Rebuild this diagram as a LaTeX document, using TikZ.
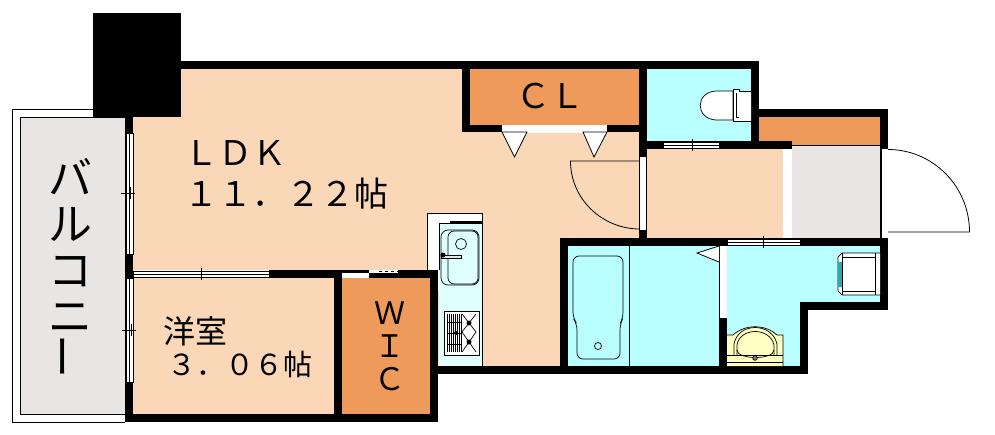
\documentclass[tikz,border=0pt]{standalone}
\usepackage{fontspec}
\newfontfamily\jpfont{Noto Sans CJK JP}
\definecolor{roompeach}{HTML}{F9D7B7}
\definecolor{closetorange}{HTML}{EE9A5A}
\definecolor{wetcyan}{HTML}{B9FFFF}
\definecolor{floorgray}{HTML}{EAE5E5}
\definecolor{basinyellow}{HTML}{FFFFC4}
\definecolor{pantea}{HTML}{2AA9B0}
\tikzset{
    x=1pt, y=-1pt, % one unit is one pixel of the plan, y runs downwards
    wall/.style={fill=black}, % the thick black walls
    opening/.style={fill=white}, % doors and windows cut in the walls
    fitting/.style={draw=black, line width=0.7pt}, % bath, sink, toilet and so on
    thinline/.style={draw=black, line width=0.8pt},
    roomlabel/.style={inner sep=0pt, font=\jpfont\fontsize{34}{41}\selectfont},
}
\begin{document}
\begin{tikzpicture}
    \useasboundingbox (0,0) rectangle (995,434);
    % balcony
    \draw[thinline] (93,109.5) -- (12.5,109.5) -- (12.5,422) -- (125,422);
    \filldraw[thinline, fill=floorgray] (125,117) -- (20.5,117) -- (20.5,414) -- (125,414);
    % floors
    \fill[roompeach] (133,117) -- (181,117) -- (181,69) -- (462,69) -- (462,132) -- (639,132)
        -- (639,238) -- (560,238) -- (560,366) -- (438,366) -- (438,270) -- (133,270) -- cycle;
    \fill[roompeach] (133,278) rectangle (334,414);
    \fill[roompeach] (647,149) rectangle (783,238);
    \fill[closetorange] (470,69) rectangle (639,125);
    \fill[closetorange] (342,278) rectangle (430,414);
    \fill[closetorange] (759,117) rectangle (880,145);
    \fill[wetcyan] (647,69) rectangle (751,141);
    \fill[wetcyan] (568,246) rectangle (719,366);
    \fill[wetcyan] (727,246) -- (880,246) -- (880,302) -- (800,302) -- (800,366) -- (727,366) -- cycle;
    \fill[floorgray] (792,145) rectangle (881,238);
    \draw[thinline] (792,145) -- (881,145) -- (881,238);
    % kitchen counter
    \filldraw[thinline, fill=white] (427,270) -- (427,213) -- (482,213) -- (482,366);
    \fill[wetcyan!45] (439,223) rectangle (482,366);
    \draw[thinline] (439,270) -- (439,223) -- (482,223);
    \draw[line width=1.4pt] (450,222) -- (482,222);
    \draw[fitting, rounded corners=7pt] (441,230) rectangle (479,285);
    \draw[fitting, rounded corners=6pt] (448,231) rectangle (478,284);
    \draw[fitting] (461,244) circle (5.5);
    \draw[fitting, fill=floorgray] (441,255.5) rectangle (461,258.5);
    \fill (443,255) circle (2.5);
    \draw[fitting, fill=white] (444,311) rectangle (479,355);
    \foreach \gx in {447,449,...,461} {
        \draw[line width=0.7pt] (\gx,314) -- (\gx,352);
    }
    \foreach \gy in {322,333,344} {
        \draw[line width=0.7pt] (447,\gy) -- (462,\gy);
    }
    \draw[fitting] (462,314) -- (476,332) -- (462,352) (476,314) -- (462,332) -- (476,352);
    \fill (469,323) circle (2.5);
    \fill (469,342) circle (2.5);
    \fill (456,333) circle (2);
    % walls
    \fill[wall] (93,13) rectangle (181,117);
    \fill[wall] (181,61) rectangle (759,69);
    \fill[wall] (462,61) rectangle (470,132);
    \fill[wall] (462,125) rectangle (647,132);
    \fill[wall] (639,61) rectangle (647,246);
    \fill[wall] (751,61) rectangle (759,149);
    \fill[wall] (639,141) rectangle (792,149);
    \fill[wall] (751,109) rectangle (888,117);
    \fill[wall] (880,109) rectangle (888,310);
    \fill[wall] (560,238) rectangle (888,246);
    \fill[wall] (560,238) rectangle (568,374);
    \fill[wall] (430,366) rectangle (808,374);
    \fill[wall] (719,238) rectangle (727,374);
    \fill[wall] (800,302) rectangle (888,310);
    \fill[wall] (800,302) rectangle (808,374);
    \fill[wall] (430,270) rectangle (438,422);
    \fill[wall] (269,270) rectangle (438,278);
    \fill[wall] (334,270) rectangle (342,422);
    \fill[wall] (125,414) rectangle (438,422);
    \fill[wall] (125,117) rectangle (133,422);
    % openings
    \fill[opening] (502,125) rectangle (607,132.5);
    \fill[opening] (640,157) rectangle (646,230);
    \fill[opening] (783,149) rectangle (792,238);
    \fill[opening] (881.5,149) rectangle (888,238);
    \fill[opening] (719.5,246) rectangle (726.5,318);
    \fill[opening] (342,272.5) rectangle (369,278);
    \fill[opening] (369,270) rectangle (398,273);
    \draw[dashed, line width=0.7pt] (379,271.5) -- (398,271.5);
    \foreach \xa/\xb/\ya in {663/719/141,727/800/238,133/269/270} {
        \filldraw[thinline, fill=white] (\xa,\ya+1) rectangle (\xb,\ya+7);
        \draw[line width=0.6pt] (\xa,\ya+4) -- (\xb,\ya+4);
    }
    \foreach \xa/\ya/\yb in {126/133/254,126/278/382} {
        \filldraw[thinline, fill=white] (\xa,\ya) rectangle (\xa+7,\yb);
        \draw[line width=0.6pt] (\xa+3.5,\ya) -- (\xa+3.5,\yb);
    }
    % window marks
    \foreach \tx/\ty in {692/145,763/242,201/274} {
        \draw[line width=0.6pt] (\tx,\ty-6) -- (\tx,\ty+6) (\tx-9,\ty) -- (\tx+9,\ty);
    }
    \foreach \tx/\ty in {128/193,129/330} {
        \draw[line width=0.6pt] (\tx-7,\ty) -- (\tx+7,\ty) (\tx+2,\ty-6) -- (\tx+2,\ty+6);
    }
    % door leaves
    \filldraw[thinline, fill=white] (502,132) -- (527,132) -- (514.5,157) -- cycle;
    \filldraw[thinline, fill=white] (583,132) -- (607,132) -- (594,157) -- cycle;
    \draw[thinline] (640,161) -- (570.5,161) arc[start angle=180, end angle=270, x radius=69.5, y radius=-68];
    \draw[thinline] (888,149.5) arc[start angle=90, end angle=0, x radius=81.5, y radius=-82.5] -- (888,232);
    \filldraw[thinline, fill=white] (719,246) -- (697,253) -- (719,262);
    % bath
    \draw[fitting] (629,246) -- (629,366);
    \draw[fitting, rounded corners=6pt] (573,318) -- (573,256) -- (623,256) -- (623,318)
        -- (620,324) -- (620,359) -- (577,359) -- (577,324) -- cycle;
    \draw[fitting] (598,346) circle (3.5);
    % toilet
    \draw[fitting, fill=white] (733,91) -- (716,91) .. controls (695,92) and (695,119) .. (716,120) -- (733,120) -- cycle;
    \draw[fitting, fill=white] (751,91) -- (739,91) -- (739,89) -- (733,89) -- (733,121) -- (751,121);
    \draw[fitting] (736,93) -- (736,117) -- (739,117);
    % washing pan
    \filldraw[fitting, fill=white] (880,253) -- (842,253) -- (838,257) -- (838,291) -- (842,295) -- (880,295);
    \fill[pantea] (838,262) rectangle (842,287);
    \draw[fitting] (842,253) -- (842,295);
    \draw[fitting] (842,257) rectangle (875,291);
    \draw[fitting] (875,253) -- (875,295);
    % wash basin
    \fill[basinyellow] (727,335) -- (733,335) .. controls (745,324) and (765,324) .. (777,335)
        -- (783,335) -- (783,366) -- (727,366) -- cycle;
    \draw[fitting] (727,335) -- (733,335) .. controls (745,324) and (765,324) .. (777,335) -- (783,335) -- (783,366);
    \draw[fitting] (734,355) -- (734,344) .. controls (738,322) and (772,322) .. (777,344) -- (777,355);
    \draw[fitting] (737,355) -- (737,345) .. controls (740,327) and (770,327) .. (774,345) -- (774,355);
    \draw[fitting] (737,350) .. controls (737,360) and (774,360) .. (774,350);
    \draw[fitting] (727,355) -- (783,355) (727,362) -- (783,362);
    \filldraw[fitting, fill=gray] (755,358) circle (2.3);
    % labels
    \node[roomlabel, anchor=north west, align=left] (ldk) at (184,140) {ＬＤＫ\\１１．２２帖};
    \node[roomlabel, anchor=west] (cl) at (516,96) {ＣＬ};
    \node[roomlabel, align=center, font=\jpfont\fontsize{31}{33}\selectfont] (wic) at (390,346) {Ｗ\\Ｉ\\Ｃ};
    \node[roomlabel, anchor=west, font=\jpfont\fontsize{32}{36}\selectfont] (western) at (163,331) {洋室};
    \node[roomlabel, anchor=west, font=\jpfont\fontsize{29}{36}\selectfont] (westernsize) at (167,364) {３．０６帖};
    \node[roomlabel, align=center, font=\jpfont\fontsize{44}{46}\selectfont] (balcony) at (70,268) {バ\\ル\\コ\\ニ\\\rotatebox{90}{ー}};
\end{tikzpicture}
\end{document}
